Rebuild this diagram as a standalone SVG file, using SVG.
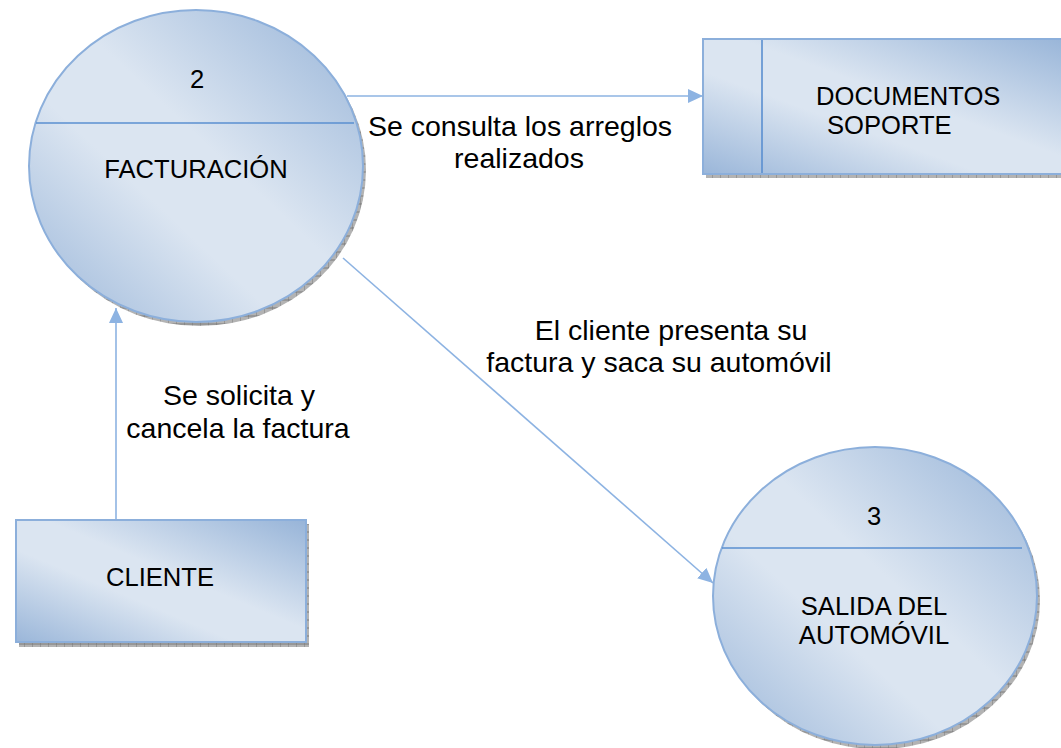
<svg xmlns="http://www.w3.org/2000/svg" width="1061" height="748" viewBox="0 0 1061 748">
<style>
.node{stroke:#8cafdb;stroke-width:2}
.div{stroke:#5a8fd0;stroke-width:1.6;fill:none}
.conn{stroke:#8db3e2;stroke-width:1.6;fill:none}
.t{font-family:"Liberation Sans",Arial,sans-serif;fill:#000}
.n{font-size:25.6px;text-anchor:middle}
.l{font-size:28.5px;text-anchor:middle}
.sh{fill:url(#hatch)}
</style>
<defs>
<linearGradient id="g" x1="1" y1="0" x2="0" y2="1">
<stop offset="0" stop-color="#97b4d8"/>
<stop offset="0.45" stop-color="#dbe5f1"/>
<stop offset="0.62" stop-color="#dbe5f1"/>
<stop offset="1" stop-color="#9ab6d9"/>
</linearGradient>
<pattern id="hatch" width="8" height="8" patternUnits="userSpaceOnUse">
<rect width="8" height="8" fill="#b3b3b3"/>
<path d="M0 0V8M0 4H8" stroke="#6f6f6f" stroke-width="0.8"/>
</pattern>
<marker id="arr" markerUnits="userSpaceOnUse" markerWidth="16" markerHeight="16" viewBox="0 0 16 16" refX="15" refY="8" orient="auto">
<path d="M0 1L15 8L0 15Z" fill="#8db3e2"/>
</marker>
</defs>

<g id="connectors">
<line class="conn" x1="347" y1="96" x2="703" y2="96" marker-end="url(#arr)"/>
<line class="conn" x1="343" y1="258" x2="713" y2="583" marker-end="url(#arr)"/>
<line class="conn" x1="116" y1="520" x2="116" y2="308" marker-end="url(#arr)"/>
</g>

<g id="proc2">
<ellipse class="sh" cx="199" cy="170" rx="167" ry="156"/>
<ellipse class="node" cx="196" cy="166" rx="167" ry="156" fill="url(#g)"/>
<line class="div" x1="36" y1="123" x2="354" y2="123"/>
<text class="t n" x="197" y="88">2</text>
<text class="t n" x="196" y="178">FACTURACIÓN</text>
</g>

<g id="store-documentos">
<rect class="sh" x="706" y="43" width="370" height="135"/>
<rect class="node" x="703" y="39" width="370" height="135" fill="url(#g)"/>
<line class="div" x1="762" y1="40" x2="762" y2="173"/>
<text class="t n" style="text-anchor:start" x="816" y="105">DOCUMENTOS</text>
<text class="t n" style="text-anchor:start" x="827" y="134">SOPORTE</text>
</g>

<g id="cliente">
<rect class="sh" x="19" y="524" width="290" height="123"/>
<rect class="node" x="16" y="520" width="290" height="122" fill="url(#g)"/>
<text class="t n" x="160" y="586">CLIENTE</text>
</g>

<g id="proc3">
<ellipse class="sh" cx="878" cy="600" rx="162" ry="149"/>
<ellipse class="node" cx="875" cy="596" rx="162" ry="149" fill="url(#g)"/>
<line class="div" x1="722" y1="548" x2="1022" y2="548"/>
<text class="t n" x="874" y="525">3</text>
<text class="t n" x="874" y="615">SALIDA DEL</text>
<text class="t n" x="874" y="644">AUTOMÓVIL</text>
</g>

<g id="labels">
<text class="t l" x="520" y="136">Se consulta los arreglos</text>
<text class="t l" x="519" y="168">realizados</text>
<text class="t l" x="671" y="340">El cliente presenta su</text>
<text class="t l" x="659" y="372">factura y saca su automóvil</text>
<text class="t l" x="239" y="405">Se solicita y</text>
<text class="t l" x="238" y="438">cancela la factura</text>
</g>
</svg>
